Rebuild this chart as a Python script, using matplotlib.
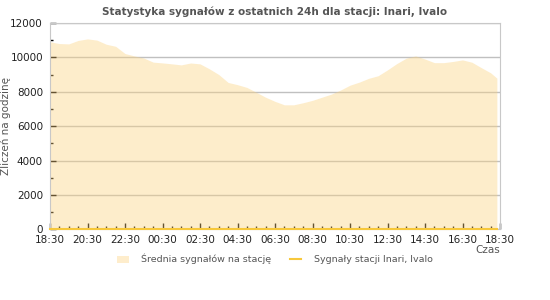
import matplotlib.pyplot as plt
import matplotlib.dates as mdates
import pandas as pd
from matplotlib.patches import Patch
from matplotlib.lines import Line2D

# Dane (co 30 minut, od 18:30)
czas = list(pd.date_range('2024-01-01 18:30', periods=48, freq='30min')) + [pd.Timestamp('2024-01-02 18:20')]
srednia = [10900, 10800, 10780, 10980, 11070, 11000, 10760, 10640, 10220, 10080,
           9960, 9720, 9675, 9620, 9560, 9670, 9620, 9330, 9000, 8540,
           8410, 8250, 7970, 7680, 7440, 7240, 7240, 7360, 7500, 7680,
           7860, 8100, 8380, 8560, 8780, 8930, 9270, 9640, 9950, 10080,
           9900, 9690, 9690, 9760, 9850, 9715, 9400, 9100, 8790]
stacja = [0] * len(czas)

etykiety_x = ['18:30', '20:30', '22:30', '00:30', '02:30', '04:30', '06:30',
              '08:30', '10:30', '12:30', '14:30', '16:30', '18:30']

kolor_tekstu = '#555555'
kolor_ramki = '#c8c8c8'

fig = plt.figure(figsize=(5.5, 3), dpi=100)
ax = fig.add_axes([50 / 550, 1 - 229.4 / 300, 450 / 550, (229.4 - 22.9) / 300])

ax.fill_between(czas, srednia, 0, color=(252 / 255, 210 / 255, 127 / 255), alpha=0.4,
                linewidth=0, zorder=2)
ax.plot(czas, stacja, color='#f7c83c', linewidth=1.5, zorder=3, clip_on=False)

start = pd.Timestamp('2024-01-01 18:30')
ax.set_xlim(start, start + pd.Timedelta(hours=24))
ax.set_ylim(0, 12000)

ax.set_xticks(pd.date_range(start, periods=13, freq='2h'))
ax.set_xticklabels(etykiety_x)
ax.xaxis.set_minor_locator(mdates.MinuteLocator(byminute=[0, 30]))
ax.set_yticks(range(0, 12001, 2000))
ax.set_yticks(range(0, 12001, 1000), minor=True)

ax.tick_params(axis='both', which='major', direction='in', length=4, width=1,
               color='black', labelsize=7.5, labelcolor='#222222')
ax.tick_params(axis='both', which='minor', direction='in', length=2.5, width=1, color='black')
ax.tick_params(axis='x', pad=4)
ax.tick_params(axis='y', pad=5)

ax.grid(axis='y', color='#c0c0c0', linewidth=1, zorder=1)
ax.set_axisbelow(True)
for s in ax.spines.values():
    s.set_color(kolor_ramki)

ax.set_title('Statystyka sygnałów z ostatnich 24h dla stacji: Inari, Ivalo',
             fontsize=7.5, fontweight='bold', color=kolor_tekstu, pad=6)
ax.set_ylabel('Zliczeń na godzinę', fontsize=7.5, color=kolor_tekstu)
ax.yaxis.set_label_coords(-0.086, 0.5)
ax.set_xlabel('Czas', fontsize=7.5, color=kolor_tekstu, loc='right', labelpad=0)

uchwyty = [Patch(facecolor='#feedcc', edgecolor='none'),
           Line2D([0], [0], color='#f7c83c', linewidth=1.5)]
fig.legend(uchwyty, ['Średnia sygnałów na stację', 'Sygnały stacji Inari, Ivalo'],
           loc='lower center', bbox_to_anchor=(0.5, 0.09), ncol=2, frameon=False,
           fontsize=6.8, labelcolor=kolor_tekstu, handlelength=1.2, handletextpad=1.3,
           columnspacing=2.0)

fig.savefig('out.png', dpi=100)
